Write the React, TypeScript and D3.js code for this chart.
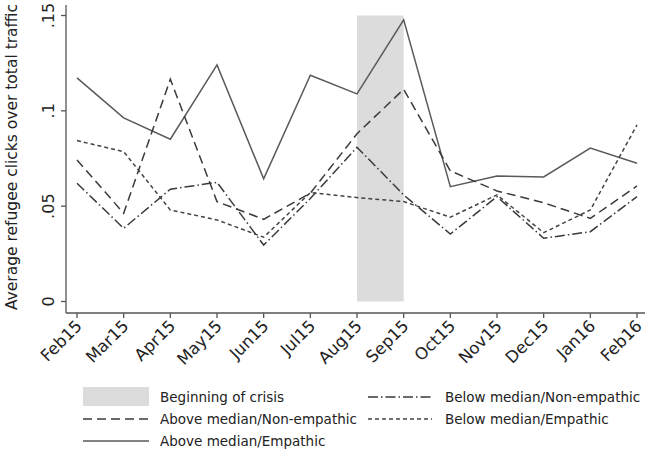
import React from "react";
import * as d3 from "d3";

const months = ["Feb15","Mar15","Apr15","May15","Jun15","Jul15","Aug15","Sep15","Oct15","Nov15","Dec15","Jan16","Feb16"];
const aboveEmpathic = [0.1173,0.0963,0.0851,0.1241,0.0643,0.1187,0.1089,0.1477,0.0602,0.0658,0.0653,0.0805,0.0725];
const aboveNonEmpathic = [0.0742,0.0463,0.1166,0.0524,0.0431,0.0568,0.0880,0.1113,0.0685,0.0580,0.0518,0.0436,0.0606];
const belowNonEmpathic = [0.0620,0.0384,0.0589,0.0625,0.0296,0.0540,0.0809,0.0559,0.0354,0.0550,0.0332,0.0366,0.0550];
const belowEmpathic = [0.0844,0.0786,0.0480,0.0428,0.0337,0.0571,0.0545,0.0524,0.0442,0.0559,0.0361,0.0480,0.0926];
const yTicks = [0, 0.05, 0.1, 0.15];
const yTickLabels = ["0", ".05", ".1", ".15"];
const crisisStart = "Aug15";
const crisisEnd = "Sep15";

const FONT = "DejaVu Sans";

export default function App() {
  const x = d3.scalePoint<string>().domain(months).range([77, 637]);
  const y = d3.scaleLinear().domain([0, 0.15]).range([301.5, 15.5]);
  const line = d3.line<number>().x((_, i) => x(months[i]) as number).y((d) => y(d));

  const series = [
    { name: "Above median/Empathic", data: aboveEmpathic, dash: "none", color: "#5a5a5a" },
    { name: "Above median/Non-empathic", data: aboveNonEmpathic, dash: "9,5", color: "#3a3a3a" },
    { name: "Below median/Non-empathic", data: belowNonEmpathic, dash: "10,3,1.5,3", color: "#3a3a3a" },
    { name: "Below median/Empathic", data: belowEmpathic, dash: "4,3", color: "#444444" },
  ];

  const axisColor = "#555";
  const x0 = 66;
  const xAxisY = 313;

  return (
    <svg width={650} height={457} style={{ position: "absolute", left: 0, top: 0, background: "#fff" }}
      fontFamily={FONT}>
      <rect x={0} y={0} width={650} height={457} fill="#fff" />
      <rect x={x(crisisStart)} y={y(0.15)} width={(x(crisisEnd) as number) - (x(crisisStart) as number)}
        height={y(0) - y(0.15)} fill="#dcdcdc" />
      <line x1={x0} x2={x0} y1={5} y2={xAxisY} stroke={axisColor} strokeWidth={1.3} />
      {yTicks.map((t, i) => (
        <g key={t}>
          <line x1={x0 - 5} x2={x0} y1={y(t)} y2={y(t)} stroke={axisColor} strokeWidth={1.3} />
          <text transform={`translate(54,${y(t)}) rotate(-90)`} textAnchor="middle" fontSize={16} fill="#222">
            {yTickLabels[i]}
          </text>
        </g>
      ))}
      <text transform={`translate(17,157) rotate(-90)`} textAnchor="middle" fontSize={15.5} fill="#222">
        Average refugee clicks over total traffic
      </text>
      <line x1={x0} x2={645} y1={xAxisY} y2={xAxisY} stroke={axisColor} strokeWidth={1.3} />
      {months.map((m) => (
        <g key={m}>
          <line x1={x(m)} x2={x(m)} y1={xAxisY} y2={xAxisY + 5} stroke={axisColor} strokeWidth={1.3} />
          <text transform={`translate(${(x(m) as number) + 6},${xAxisY + 14}) rotate(-45)`} textAnchor="end"
            fontSize={16.5} fill="#222">
            {m}
          </text>
        </g>
      ))}
      {series.map((s) => (
        <path key={s.name} d={line(s.data) as string} fill="none" stroke={s.color} strokeWidth={1.5}
          strokeDasharray={s.dash === "none" ? undefined : s.dash} />
      ))}
      <g fontSize={13.5} fill="#222">
        <rect x={83} y={387} width={66} height={19} fill="#dcdcdc" />
        <text x={160} y={401.5}>Beginning of crisis</text>
        <line x1={83} x2={149} y1={419} y2={419} stroke={series[1].color} strokeWidth={1.5} strokeDasharray={series[1].dash} />
        <text x={160} y={423.5}>Above median/Non-empathic</text>
        <line x1={83} x2={149} y1={441} y2={441} stroke={series[0].color} strokeWidth={1.5} />
        <text x={160} y={445.5}>Above median/Empathic</text>
        <line x1={368} x2={432} y1={397} y2={397} stroke={series[2].color} strokeWidth={1.5} strokeDasharray={series[2].dash} />
        <text x={445} y={401.5}>Below median/Non-empathic</text>
        <line x1={368} x2={432} y1={419} y2={419} stroke={series[3].color} strokeWidth={1.5} strokeDasharray={series[3].dash} />
        <text x={445} y={423.5}>Below median/Empathic</text>
      </g>
    </svg>
  );
}
